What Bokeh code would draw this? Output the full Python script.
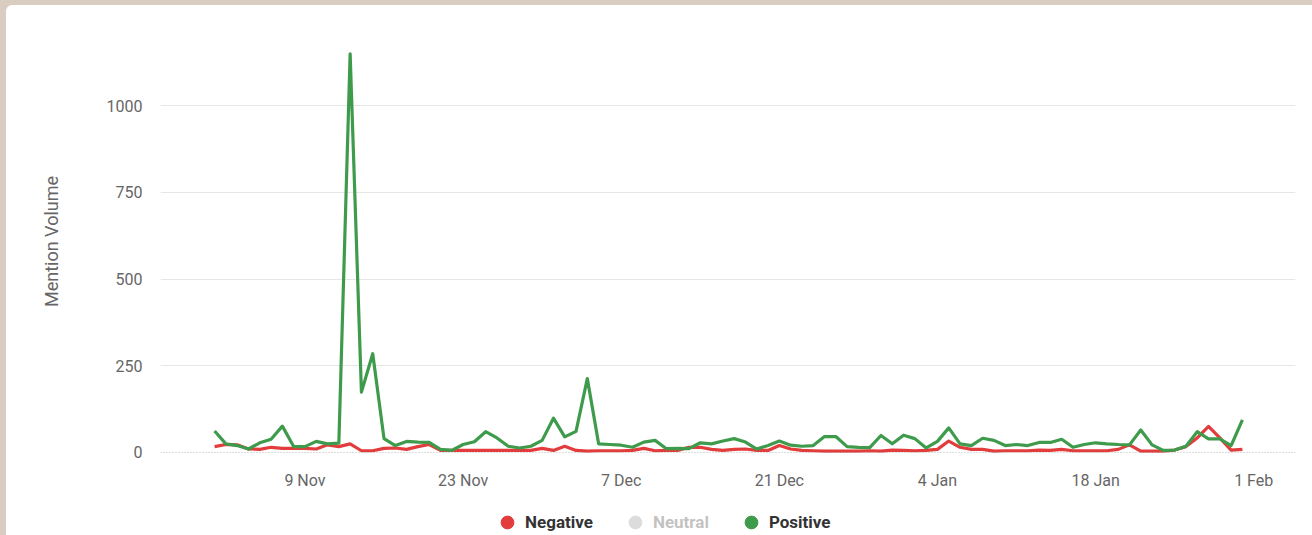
import numpy as np
import pandas as pd
from bokeh.plotting import figure
from bokeh.models import (Range1d, FixedTicker, Span, Legend, LegendItem,
                          ColumnDataSource, DatetimeTickFormatter)
from bokeh.layouts import column
from bokeh.embed import file_html
from bokeh.resources import INLINE

# ---------------- data ----------------
start_date = "2022-11-01"
positive = [62, 25, 20, 10, 28, 38, 76, 17, 17, 32, 25, 27,
            1150, 174, 285, 40, 20, 32, 30, 29, 9, 6, 23, 31,
            60, 42, 18, 13, 18, 35, 99, 45, 61, 213, 25, 23,
            21, 15, 30, 35, 11, 12, 11, 28, 25, 33, 40, 30,
            10, 20, 33, 21, 18, 20, 46, 46, 17, 15, 14, 49,
            25, 50, 40, 13, 32, 71, 25, 20, 41, 35, 20, 23,
            20, 29, 29, 38, 15, 23, 28, 25, 23, 22, 65, 22,
            6, 7, 18, 60, 39, 39, 20, 94]
negative = [17, 23, 22, 10, 9, 15, 12, 12, 12, 10, 22, 17,
            25, 5, 5, 12, 13, 9, 17, 23, 6, 6, 6, 6,
            6, 6, 6, 6, 6, 12, 6, 18, 6, 4, 5, 5,
            5, 6, 12, 5, 6, 6, 15, 15, 9, 6, 9, 10,
            6, 6, 20, 10, 6, 5, 4, 4, 4, 4, 5, 4,
            7, 6, 5, 6, 9, 33, 15, 9, 9, 4, 5, 5,
            5, 7, 6, 9, 5, 5, 5, 5, 9, 22, 4, 4,
            4, 7, 17, 42, 75, 42, 7, 9]
# Neutral series is switched off in the chart: its values are not shown
neutral = [np.nan] * len(positive)
series_names = ["Negative", "Neutral", "Positive"]
series_hidden = [False, True, False]
tick_dates = ["2022-11-09", "2022-11-23", "2022-12-07", "2022-12-21",
              "2023-01-04", "2023-01-18", "2023-02-01"]
tick_labels = ["9 Nov", "23 Nov", "7 Dec", "21 Dec", "4 Jan", "18 Jan", "1 Feb"]
y_ticks = [0, 250, 500, 750, 1000]
y_title = "Mention Volume"

# ---------------- styling ----------------
RED = "#e23c3c"
GREEN = "#3f9b4c"
GREY = "#8a8a8a"
FONT = "Roboto"
BG = "#d8cdc0"

dates = pd.date_range(start_date, periods=len(positive), freq="D")
src = ColumnDataSource(dict(date=dates, pos=positive, neg=negative, neu=neutral))

def ms(ts):
    return pd.Timestamp(ts).value / 1e6

day = 86400000.0
x_start = ms(dates[0]) - 4.79 * day
x_end = ms(dates[-1]) + 4.70 * day

p = figure(width=1306, height=490, x_axis_type="datetime",
           output_backend="svg", toolbar_location=None,
           x_range=Range1d(x_start, x_end), y_range=Range1d(-5.8, 1223),
           min_border_left=154, min_border_right=17,
           min_border_top=23, min_border_bottom=41,
           margin=(5, 0, 0, 6),
           styles={"background-color": "white", "border-top-left-radius": "6px"})
p.outline_line_color = None
p.background_fill_alpha = 0
p.border_fill_alpha = 0

# y axis
yax = p.yaxis[0]
yax.ticker = FixedTicker(ticks=y_ticks)
yax.axis_line_color = None
yax.major_tick_line_color = None
yax.minor_tick_line_color = None
yax.major_label_standoff = 12
yax.major_label_text_font = FONT
yax.major_label_text_font_size = "16px"
yax.major_label_text_color = "#666666"
yax.axis_label = y_title
yax.axis_label_text_font = FONT
yax.axis_label_text_font_size = "18px"
yax.axis_label_text_font_style = "normal"
yax.axis_label_text_color = "#666666"
yax.axis_label_standoff = 42

# x axis
tick_ms = [ms(d) for d in tick_dates]
xax = p.xaxis[0]
xax.ticker = FixedTicker(ticks=tick_ms)
xax.formatter = DatetimeTickFormatter(days="%d %b", months="%d %b")
xax.major_label_overrides = {t: lab for t, lab in zip(tick_ms, tick_labels)}
xax.axis_line_color = None
xax.major_tick_line_color = None
xax.minor_tick_line_color = None
xax.major_label_standoff = 10
xax.major_label_text_font = FONT
xax.major_label_text_font_size = "16px"
xax.major_label_text_color = "#666666"

# grid
p.xgrid.grid_line_color = None
p.ygrid.ticker = FixedTicker(ticks=[t for t in y_ticks if t != 0])
p.ygrid.grid_line_color = "#e6e6e6"
p.ygrid.grid_line_width = 1

zero = Span(location=0, dimension="width", line_color="#b8b8b8",
            line_width=1, line_dash="1 2")
p.add_layout(zero)

# series
p.line("date", "neg", source=src, line_color=RED, line_width=3.2, line_join="round")
p.line("date", "pos", source=src, line_color=GREEN, line_width=3.2, line_join="round")

# ---------------- legend strip (separate figure below) ----------------
lg = figure(width=1306, height=40, output_backend="svg", toolbar_location=None,
            x_axis_location=None, y_axis_location=None,
            min_border_left=0, min_border_right=0, min_border_top=0,
            min_border_bottom=0, margin=(0, 0, 0, 6),
            x_range=Range1d(0, 1), y_range=Range1d(0, 1),
            styles={"background-color": "white"})
lg.outline_line_color = None
lg.grid.visible = False
lg.background_fill_alpha = 0
lg.border_fill_alpha = 0

# marker renderers for the legend keys (points fall outside this strip's ranges)
keys = []
for col, colr, hidden in zip(["neg", "neu", "pos"], [RED, GREY, GREEN], series_hidden):
    r = lg.scatter("date", col, source=src, marker="circle", size=0, color=colr)
    r.visible = not hidden
    keys.append(r)

legend = Legend(items=[LegendItem(label=n, renderers=[r]) for n, r in zip(series_names, keys)],
                location=(331, -3), orientation="horizontal",
                glyph_width=32, glyph_height=32, label_standoff=2, spacing=26,
                padding=0, margin=0, border_line_color=None,
                background_fill_alpha=0, click_policy="hide",
                inactive_fill_color="white", inactive_fill_alpha=0.7,
                label_text_font=FONT, label_text_font_size="17px",
                label_text_font_style="bold", label_text_color="#333333")
lg.add_layout(legend)

layout = column(p, lg, width=1312, height=535, spacing=0,
                styles={"background-color": BG})

open("out.html", "w").write(file_html(layout, INLINE))
